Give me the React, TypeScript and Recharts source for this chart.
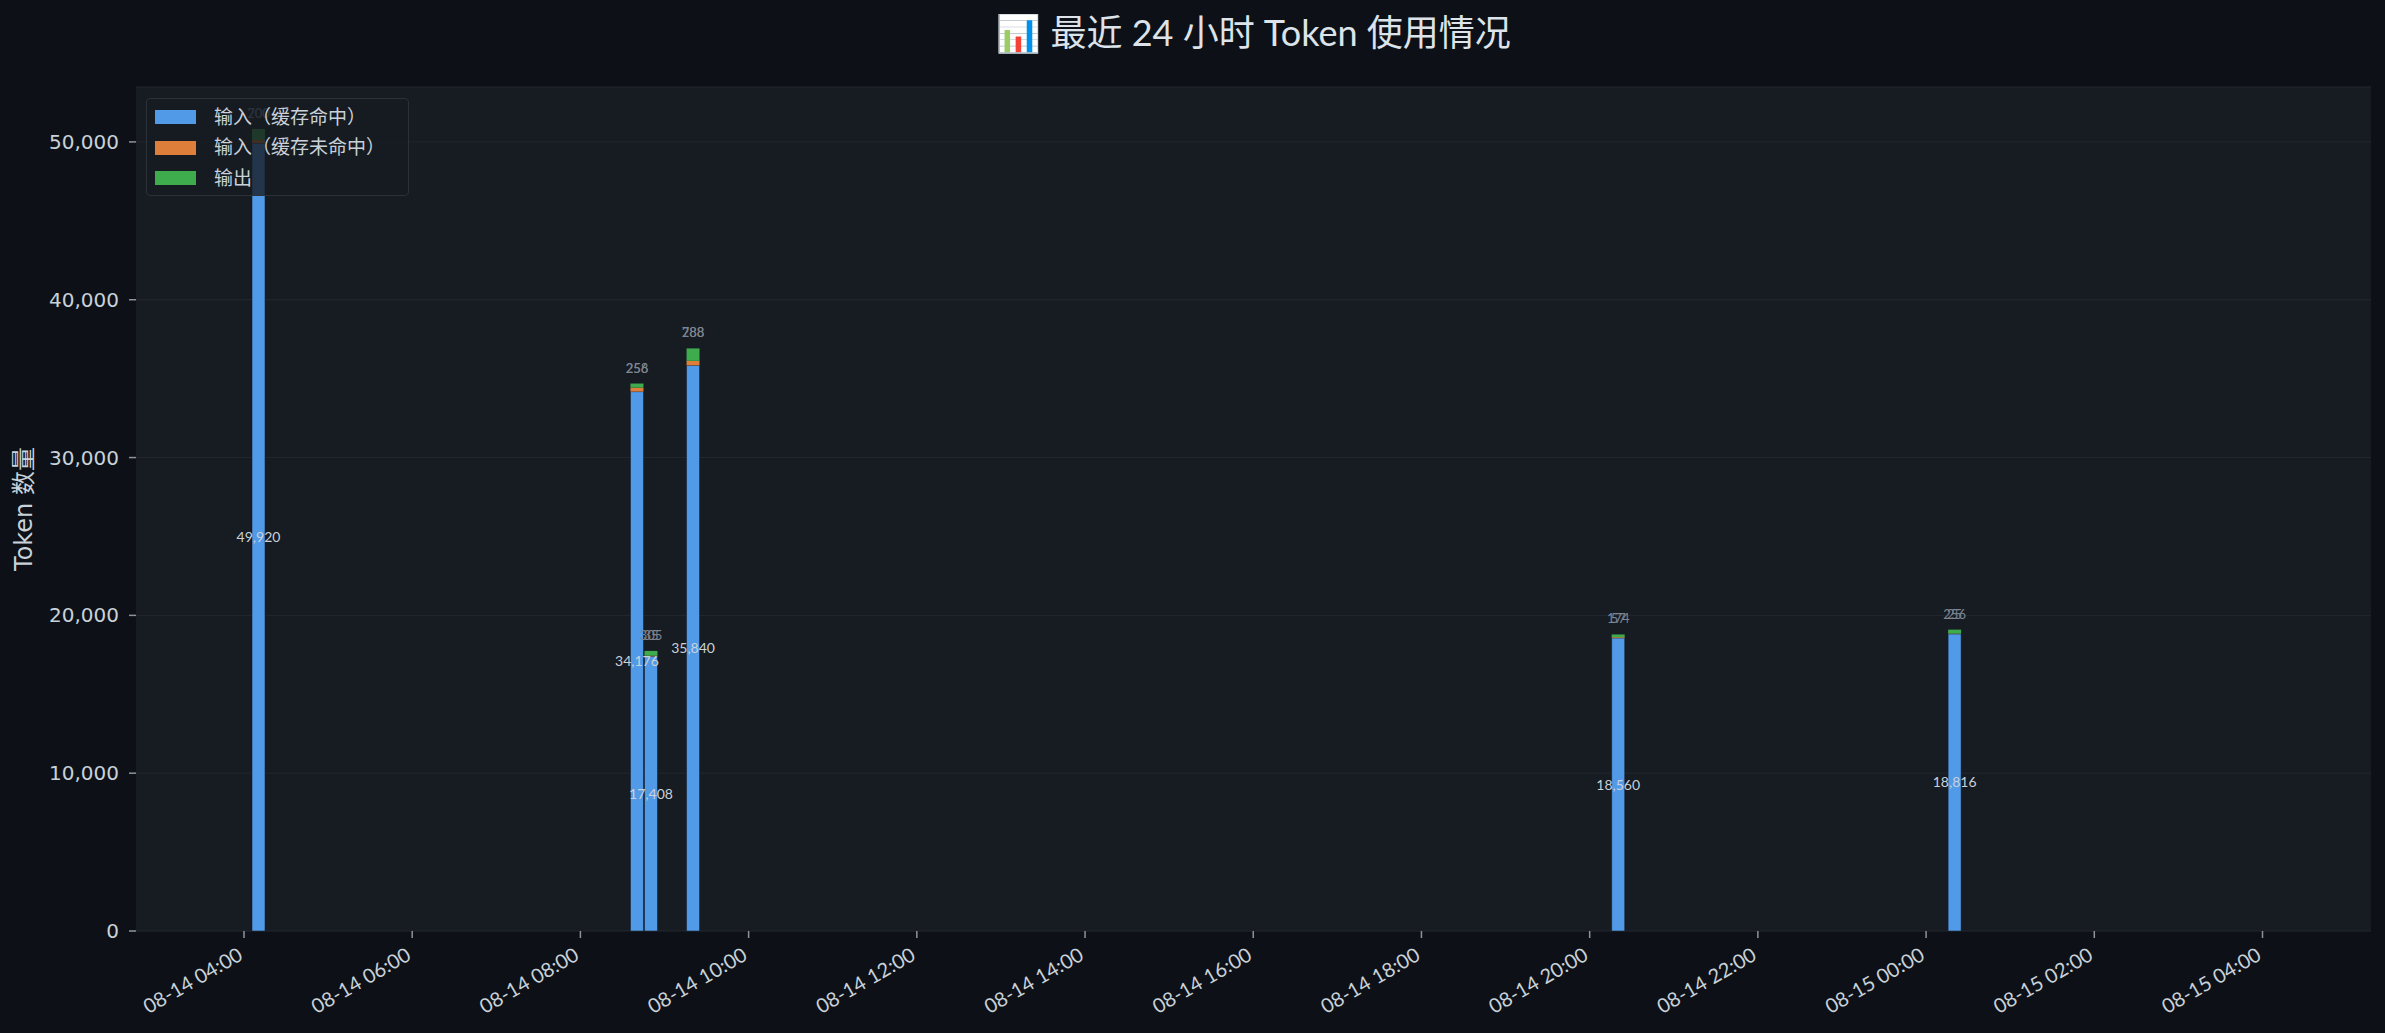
import React from 'react';
import { BarChart, Bar, XAxis, YAxis, CartesianGrid, Legend, LabelList } from 'recharts';

// ---- data ----
const times = ['08-14 04:10', '08-14 08:40', '08-14 08:50', '08-14 09:20', '08-14 20:20', '08-15 00:20'];
const cacheHit = [49920, 34176, 17408, 35840, 18560, 18816];
const cacheMiss = [200, 256, 35, 288, 57, 25];
const output = [700, 258, 305, 788, 174, 256];
const xTickLabels = [
  '08-14 04:00', '08-14 06:00', '08-14 08:00', '08-14 10:00', '08-14 12:00', '08-14 14:00', '08-14 16:00',
  '08-14 18:00', '08-14 20:00', '08-14 22:00', '08-15 00:00', '08-15 02:00', '08-15 04:00',
];
const yTicks = [0, 10000, 20000, 30000, 40000, 50000];
const seriesNames = ['输入（缓存命中）', '输入（缓存未命中）', '输出'];
const title = '📊 最近 24 小时 Token 使用情况';
const yLabel = 'Token 数量';

// "MM-DD HH:mm" -> hours since 08-14 00:00
const toHours = (s: string) => {
  const day = parseInt(s.slice(3, 5), 10) - 14;
  const hh = parseInt(s.slice(6, 8), 10);
  const mm = parseInt(s.slice(9, 11), 10);
  return day * 24 + hh + mm / 60;
};

const data = times.map((t, i) => ({ t: toHours(t), hit: cacheHit[i], miss: cacheMiss[i], out: output[i] }));
const xTicks = xTickLabels.map(toHours);
const labelByHour: Record<string, string> = {};
xTickLabels.forEach((l) => { labelByHour[String(toHours(l))] = l; });

const COLORS = { hit: '#519ae8', miss: '#dd7e3b', out: '#3eab4d' };
const TEXT = '#c9d1d9';
const GEO = "Lato, 'Noto Sans CJK SC', sans-serif";
const DJ = "'DejaVu Sans', 'Noto Sans CJK SC', sans-serif";

const fmt = (v: number) => v.toLocaleString('en-US');

const XTick = (props: any) => {
  const { x, y, payload } = props;
  const label = labelByHour[String(payload.value)] ?? '';
  const ax = x;
  const ay = y + 21;
  return (
    <text x={ax} y={ay} textAnchor="end" transform={`rotate(-30, ${ax}, ${ay})`} fill={TEXT} fontSize={20} fontFamily={GEO}>
      {label}
    </text>
  );
};

const YLabel = (props: any) => {
  const vb = props.viewBox;
  const cx = 24;
  const cy = vb && typeof vb.y === 'number' ? vb.y + vb.height / 2 : 509;
  return (
    <text x={cx} y={cy} transform={`rotate(-90, ${cx}, ${cy})`} textAnchor="middle" dominantBaseline="central" fill={TEXT} fontSize={24} fontFamily={DJ}>
      {yLabel}
    </text>
  );
};

const TopLabel = (props: any) => {
  const { x, y, width, value } = props;
  if (value === undefined || value === null) return null;
  return (
    <text x={x + width / 2} y={y - 11} textAnchor="middle" fill="#7d8590" fontSize={13} fontFamily={GEO}>
      {fmt(Number(value))}
    </text>
  );
};

const LegendContent = (props: any) => {
  const payload = props.payload || [];
  return (
    <div
      style={{
        width: 263,
        height: 98,
        boxSizing: 'border-box',
        border: '1.5px solid #2b3139',
        borderRadius: 4,
        background: 'rgba(22,27,34,0.8)',
        paddingTop: 3,
      }}
    >
      {payload.map((p: any) => (
        <div key={p.value} style={{ display: 'flex', alignItems: 'center', height: 30.5 }}>
          <div style={{ width: 41, height: 14, marginLeft: 8, background: p.color }} />
          <span style={{ marginLeft: 18, color: TEXT, fontSize: 19, fontFamily: DJ, lineHeight: 1, whiteSpace: 'nowrap' }}>{p.value}</span>
        </div>
      ))}
    </div>
  );
};

export default function App() {
  return (
    <div style={{ position: 'fixed', left: 0, top: 0, width: 2385, height: 1033, background: '#0d1117', overflow: 'hidden' }}>
      <div
        style={{
          position: 'absolute',
          left: 136,
          width: 2235,
          top: 12,
          textAlign: 'center',
          color: '#dde3ea',
          fontSize: 36,
          lineHeight: '40px',
          fontFamily: GEO,
          zIndex: 2,
        }}
      >
        {title}
      </div>
      <BarChart
        width={2385}
        height={1033}
        data={data}
        margin={{ top: 87, right: 14, bottom: 0, left: 0 }}
        barSize={13}
      >
        <CartesianGrid vertical={false} stroke="#222831" fill="#171b22" fillOpacity={1} />
        <XAxis
          dataKey="t"
          type="number"
          domain={[2.716, 29.29]}
          ticks={xTicks}
          allowDataOverflow
          height={102}
          axisLine={false}
          tickLine={{ stroke: '#8b949e', strokeWidth: 1.5 }}
          tickSize={7}
          tickMargin={0}
          tick={<XTick />}
          interval={0}
        />
        <YAxis
          type="number"
          domain={[0, 53480]}
          ticks={yTicks}
          allowDataOverflow
          width={136}
          axisLine={false}
          tickLine={{ stroke: '#8b949e', strokeWidth: 1.5 }}
          tickSize={7}
          tickMargin={10}
          tickFormatter={fmt}
          tick={{ fill: TEXT, fontSize: 20, fontFamily: DJ }}
          label={<YLabel />}
        />
        <Legend
          layout="vertical"
          align="center"
          verticalAlign="middle"
          wrapperStyle={{ left: 146, top: 98, width: 263, height: 98 }}
          content={<LegendContent />}
        />
        <Bar dataKey="hit" name={seriesNames[0]} stackId="a" fill={COLORS.hit} stroke="#161b22" strokeWidth={0.5} isAnimationActive={false}>
          <LabelList dataKey="hit" position="center" formatter={(v: any) => fmt(Number(v))} fill={TEXT} fontSize={14} fontFamily={GEO} />
        </Bar>
        <Bar dataKey="miss" name={seriesNames[1]} stackId="a" fill={COLORS.miss} isAnimationActive={false} />
        <Bar dataKey="out" name={seriesNames[2]} stackId="a" fill={COLORS.out} isAnimationActive={false}>
          <LabelList dataKey="miss" content={<TopLabel />} />
          <LabelList dataKey="out" content={<TopLabel />} />
        </Bar>
      </BarChart>
    </div>
  );
}
